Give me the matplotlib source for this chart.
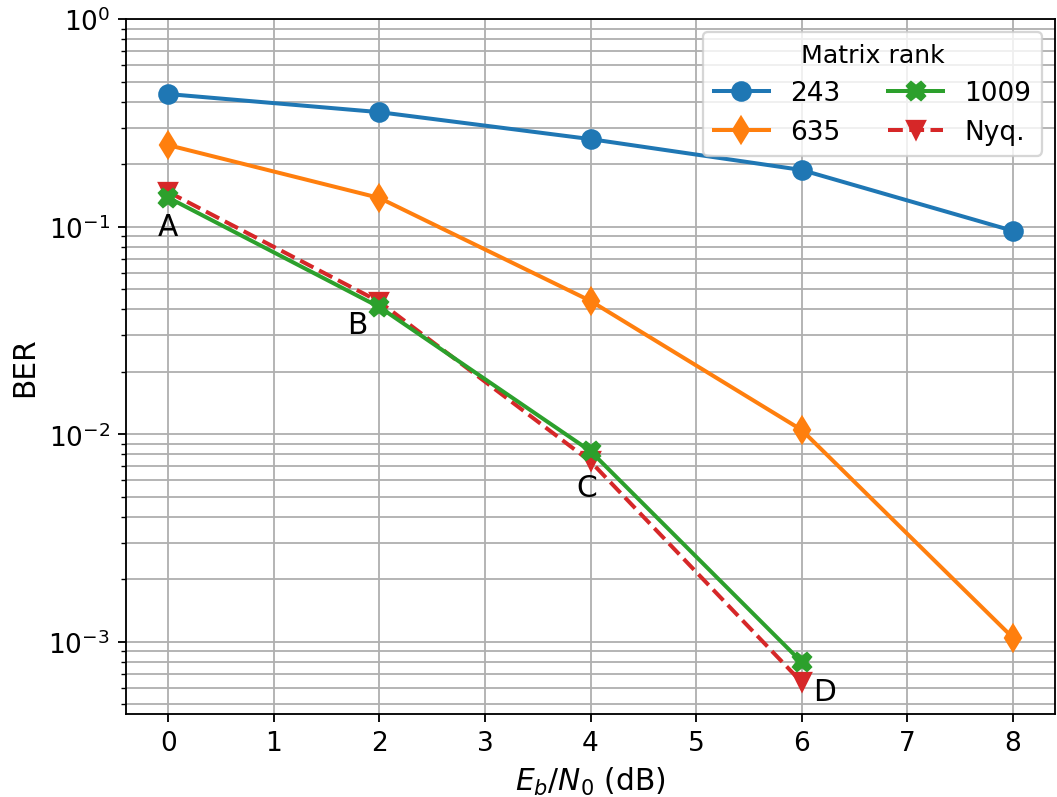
import matplotlib
matplotlib.use("Agg")
import matplotlib.pyplot as plt

snr = [0, 2, 4, 6, 8]
snr_short = [0, 2, 4, 6]
ber_243 = [0.435, 0.356, 0.264, 0.1875, 0.0955]
ber_635 = [0.247, 0.1375, 0.0439, 0.0105, 0.00105]
ber_1009 = [0.138, 0.041, 0.0083, 0.0008]
ber_nyq = [0.147, 0.0435, 0.0074, 0.00064]
point_labels = ["A", "B", "C", "D"]

dpi = 165
fig = plt.figure(figsize=(1057 / dpi, 798 / dpi), dpi=dpi)
ax = fig.add_axes([126 / 1057, 1 - 715 / 798, (1055 - 126) / 1057, (715 - 20) / 798])

lw = 1.75
ax.semilogy(snr, ber_243, marker='o', markersize=8, lw=lw, label='243', color='#1f77b4', zorder=3)
ax.semilogy(snr, ber_635, marker='d', markersize=8, lw=lw, label='635', color='#ff7f0e', zorder=3)
ax.semilogy(snr_short, ber_1009, marker='X', markersize=8, lw=lw, label='1009', color='#2ca02c', zorder=3)
ax.semilogy(snr_short, ber_nyq, marker='v', markersize=8, lw=lw, ls='--', label='Nyq.', color='#d62728', zorder=2.5)

px = 72 / dpi
offsets = [(0, -29), (-22, -17), (-4, -36), (23, -29)]
for lab, x, y, (dx, dy) in zip(point_labels, snr_short, ber_1009, offsets):
    ax.annotate(lab, (x, y), xytext=(dx * px, dy * px), textcoords='offset points',
                ha='center', va='center', fontsize=13)

ax.set_xlim(-0.4, 8.4)
ax.set_ylim(4.5e-4, 1)
ax.set_xticks(range(0, 9))
ax.tick_params(labelsize=11.5)
ax.grid(True, which='both')
ax.set_xlabel('$E_b/N_0$ (dB)', fontsize=13)
ax.set_ylabel('BER', fontsize=13)
ax.legend(title='Matrix rank', ncol=2, loc='upper right', fontsize=11.5, title_fontsize=11,
          handlelength=2.1, columnspacing=1.8)

fig.savefig('out.png', dpi=dpi)
